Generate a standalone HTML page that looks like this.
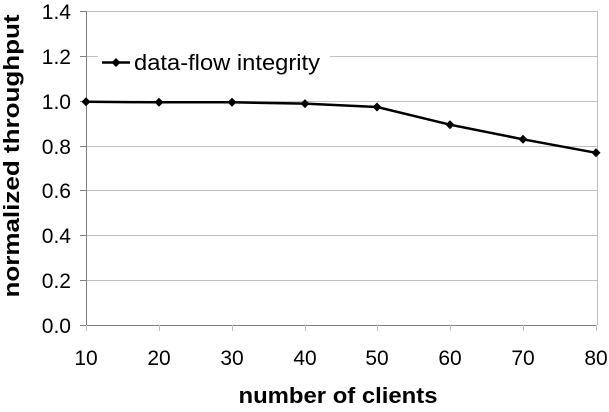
<!DOCTYPE html>
<html><head><style>body{margin:0;background:#fff}</style></head><body>
<svg width="609" height="407" xmlns="http://www.w3.org/2000/svg" font-family="Liberation Sans, Arial, sans-serif">
<g stroke="#c0c0c0" stroke-width="1">
<line x1="86" y1="11.5" x2="597" y2="11.5"/>
<line x1="86" y1="56.5" x2="597" y2="56.5"/>
<line x1="86" y1="101.5" x2="597" y2="101.5"/>
<line x1="86" y1="146.5" x2="597" y2="146.5"/>
<line x1="86" y1="190.5" x2="597" y2="190.5"/>
<line x1="86" y1="235.5" x2="597" y2="235.5"/>
<line x1="86" y1="280.5" x2="597" y2="280.5"/>
<line x1="597.5" y1="11" x2="597.5" y2="325"/>
</g>
<g stroke="#808080" stroke-width="1">
<line x1="86.5" y1="11" x2="86.5" y2="325"/>
<line x1="80" y1="325.5" x2="597" y2="325.5"/>
<line x1="80" y1="11.5" x2="86" y2="11.5"/><line x1="80" y1="56.5" x2="86" y2="56.5"/><line x1="80" y1="101.5" x2="86" y2="101.5"/><line x1="80" y1="146.5" x2="86" y2="146.5"/><line x1="80" y1="190.5" x2="86" y2="190.5"/><line x1="80" y1="235.5" x2="86" y2="235.5"/><line x1="80" y1="280.5" x2="86" y2="280.5"/>
</g>
<g stroke="#c0c0c0"><line x1="86.5" y1="325" x2="86.5" y2="331"/><line x1="159.5" y1="325" x2="159.5" y2="331"/><line x1="232.5" y1="325" x2="232.5" y2="331"/><line x1="305.5" y1="325" x2="305.5" y2="331"/><line x1="377.5" y1="325" x2="377.5" y2="331"/><line x1="450.5" y1="325" x2="450.5" y2="331"/><line x1="523.5" y1="325" x2="523.5" y2="331"/><line x1="596.5" y1="325" x2="596.5" y2="331"/></g>
<g font-size="21" text-anchor="end" fill="#000">
<text x="71" y="19">1.4</text><text x="71" y="64">1.2</text><text x="71" y="109">1.0</text><text x="71" y="154">0.8</text><text x="71" y="198">0.6</text><text x="71" y="243">0.4</text><text x="71" y="288">0.2</text><text x="71" y="333">0.0</text>
</g>
<g font-size="21" text-anchor="middle">
<text x="86" y="365">10</text><text x="159" y="365">20</text><text x="232" y="365">30</text><text x="305" y="365">40</text><text x="377" y="365">50</text><text x="450" y="365">60</text><text x="523" y="365">70</text><text x="596" y="365">80</text>
</g>
<text x="338" y="403" font-size="22" font-weight="bold" text-anchor="middle" textLength="199" lengthAdjust="spacingAndGlyphs">number of clients</text>
<text transform="translate(19,156) rotate(-90)" font-size="22" font-weight="bold" text-anchor="middle" textLength="283" lengthAdjust="spacingAndGlyphs">normalized throughput</text>
<polyline fill="none" stroke="#000" stroke-width="2.5" points="86,101.8 159,102.3 232,102.3 305,103.6 377,107 450,124.7 523,139.3 596,152.8"/>
<g fill="#000">
<path d="M86,97.3l4.5,4.5l-4.5,4.5l-4.5,-4.5z"/><path d="M159,97.8l4.5,4.5l-4.5,4.5l-4.5,-4.5z"/><path d="M232,97.8l4.5,4.5l-4.5,4.5l-4.5,-4.5z"/><path d="M305,99.1l4.5,4.5l-4.5,4.5l-4.5,-4.5z"/><path d="M377,102.5l4.5,4.5l-4.5,4.5l-4.5,-4.5z"/><path d="M450,120.2l4.5,4.5l-4.5,4.5l-4.5,-4.5z"/><path d="M523,134.8l4.5,4.5l-4.5,4.5l-4.5,-4.5z"/><path d="M596,148.3l4.5,4.5l-4.5,4.5l-4.5,-4.5z"/>
</g>
<rect x="98" y="48" width="232" height="30" fill="#fff"/>
<line x1="102" y1="62.5" x2="130" y2="62.5" stroke="#000" stroke-width="2.5"/>
<path d="M116,58l4.5,4.5l-4.5,4.5l-4.5,-4.5z" fill="#000"/>
<text x="134" y="70" font-size="22" textLength="186" lengthAdjust="spacingAndGlyphs">data-flow integrity</text>
</svg>
</body></html>
